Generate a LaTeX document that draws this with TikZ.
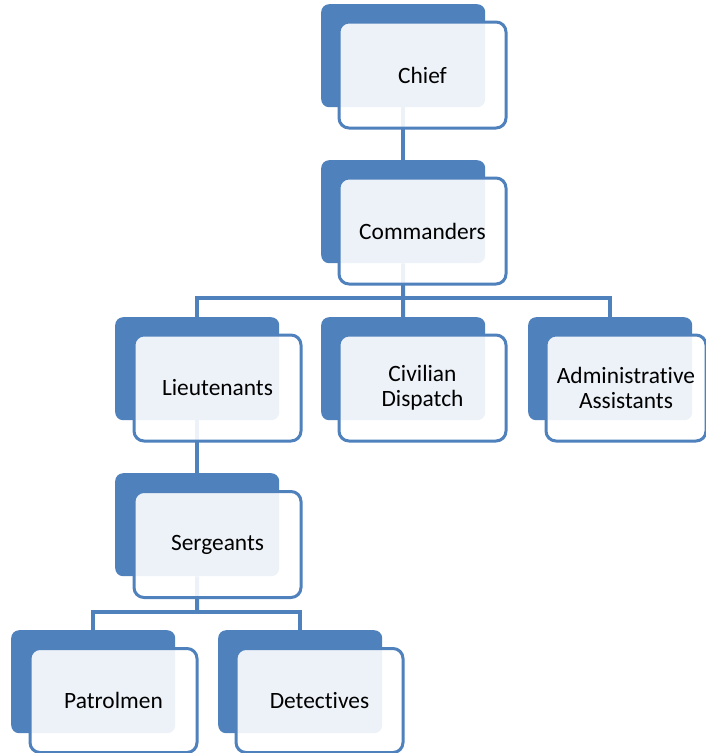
\documentclass[tikz,border=0pt]{standalone}
\usepackage{fontspec}
\setmainfont{Carlito}[Ligatures={NoCommon}]
\usetikzlibrary{backgrounds}
\definecolor{ob}{HTML}{4F81BD}
\begin{document}
\begin{tikzpicture}[x=1pt,y=-1pt,
  backbox/.style={fill=ob, rounded corners=8pt, minimum width=164pt, minimum height=103pt, inner sep=0pt, anchor=north west},
  frontbox/.style={draw=ob, line width=3pt, fill=white, fill opacity=0.9, text opacity=1, rounded corners=10pt, minimum width=167pt, minimum height=106pt, inner sep=0pt, anchor=north west, align=center, text=black, font=\fontsize{23.4}{25.5}\selectfont},
  link/.style={draw=ob, line width=4pt}]
\useasboundingbox (0,0) rectangle (706,753);
% Chief
\node[backbox] (chiefb) at (321,4) {};
\node[frontbox] (chief) at (337.5,20.5) {Chief};
% Commanders
\node[backbox] (cmdb) at (321,160) {};
\node[frontbox] (cmd) at (337.5,176.5) {Commanders};
% Lieutenants
\node[backbox] (ltb) at (115,317) {};
\node[frontbox] (lt) at (132.5,333.5) {Lieutenants};
% Civilian Dispatch
\node[backbox] (cdb) at (321,317) {};
\node[frontbox] (cd) at (337.5,333.5) {Civilian\\Dispatch};
% Administrative Assistants
\node[backbox] (adb) at (528,317) {};
\node[frontbox, minimum width=160pt] (ad) at (544.5,333.5) {Administrative\\Assistants};
% Sergeants
\node[backbox] (sgb) at (115,473) {};
\node[frontbox] (sg) at (132.5,490) {Sergeants};
% Patrolmen
\node[backbox] (ptb) at (11,630) {};
\node[frontbox, minimum height=104pt] (pt) at (28.5,647) {Patrolmen};
% Detectives
\node[backbox] (dtb) at (218,630) {};
\node[frontbox, minimum height=104pt] (dt) at (234.5,647) {Detectives};
\begin{scope}[on background layer]
  \fill[white] (0,0) rectangle (706,753);
  \coordinate (j1) at (403,298);
  \coordinate (j2) at (197,612);
  \draw[link] (chiefb.south) -- (cmdb.north);
  \draw[link] (cmdb.south) -- (j1);
  \draw[link] (ltb.north) |- (j1) -| (adb.north);
  \draw[link] (j1) -- (cdb.north);
  \draw[link] (ltb.south) -- (sgb.north);
  \draw[link] (sgb.south) -- (j2);
  \draw[link] (ptb.north) |- (j2) -| (dtb.north);
\end{scope}
\end{tikzpicture}
\end{document}
